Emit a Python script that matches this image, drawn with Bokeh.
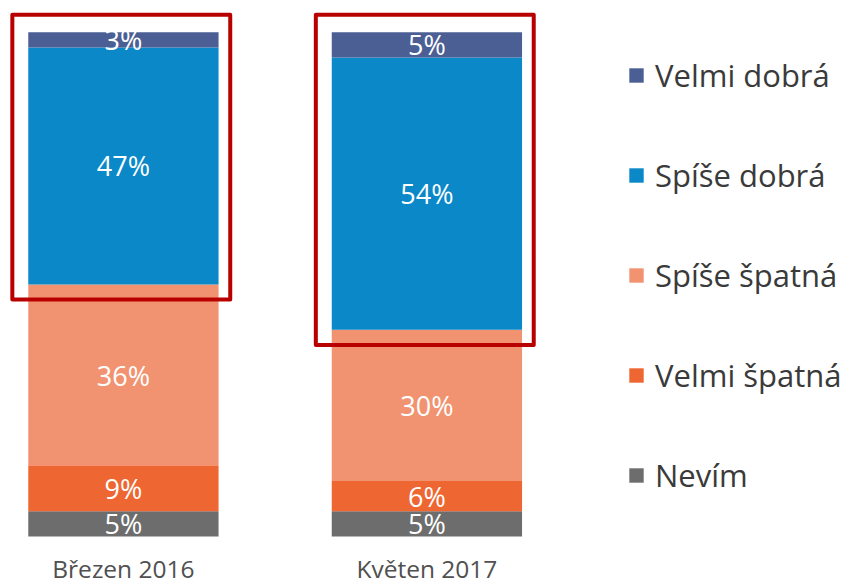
from bokeh.plotting import figure
from bokeh.models import ColumnDataSource, Range1d, FixedTicker, Legend, LegendItem
from bokeh.core.properties import value
from bokeh.embed import file_html
from bokeh.resources import INLINE

periods = ["Březen 2016", "Květen 2017"]
categories = ["Nevím", "Velmi špatná", "Spíše špatná", "Spíše dobrá", "Velmi dobrá"]
nevim = [5, 5]
velmi_spatna = [9, 6]
spise_spatna = [36, 30]
spise_dobra = [47, 54]
velmi_dobra = [3, 5]
colors = ["#6D6D6D", "#EE6632", "#F19370", "#0A88C8", "#4B5F95"]

FONT = "Open Sans"
xs = list(range(len(periods)))
series = [nevim, velmi_spatna, spise_spatna, spise_dobra, velmi_dobra]

data = {"x": xs}
for name, vals in zip(categories, series):
    data[name] = vals
src = ColumnDataSource(data)

p = figure(width=844, height=587, output_backend="svg", toolbar_location=None,
           x_range=Range1d(-0.405, 2.376), y_range=Range1d(-0.4, 106.32),
           y_axis_location=None, min_border_left=0, min_border_right=0,
           min_border_top=0, min_border_bottom=0)
p.outline_line_color = None
p.grid.visible = False

renderers = p.vbar_stack(categories, x="x", width=0.627, color=colors, source=src,
                         line_color=None)

# data labels
lx, ly, lt = [], [], []
for i in xs:
    base = 0
    for vals in series:
        v = vals[i]
        lx.append(i)
        ly.append(base + v / 2)
        lt.append(f"{v}%")
        base += v
p.text(x=lx, y=ly, text=lt, text_align="center", text_baseline="middle",
       text_color="white", text_font=value(FONT), text_font_size="27px")

# highlight rectangles around the "good" portion
good_start = [a + b + c for a, b, c in zip(nevim, velmi_spatna, spise_spatna)]
p.quad(left=[i - 0.366 for i in xs], right=[i + 0.352 for i in xs],
       bottom=[g - 3.0 for g in good_start], top=[103.5 for _ in xs],
       fill_alpha=0, line_color="#B80000", line_width=4, line_join="round")

# x axis
ax = p.xaxis[0]
ax.ticker = FixedTicker(ticks=xs)
ax.major_label_overrides = {i: lab for i, lab in zip(xs, periods)}
ax.axis_line_color = None
ax.major_tick_line_color = None
ax.minor_tick_line_color = None
ax.major_label_text_font = FONT
ax.major_label_text_font_size = "24.5px"
ax.major_label_text_color = "#505050"
ax.major_label_standoff = 7

items = [LegendItem(label=name, renderers=[r]) for name, r in zip(categories, renderers)]
items.reverse()
legend = Legend(items=items, location=(627, 42), orientation="vertical",
                glyph_width=18, glyph_height=18, label_height=40, spacing=58,
                label_standoff=10, padding=0, margin=0,
                border_line_color=None, background_fill_alpha=0,
                label_text_font=FONT, label_text_font_size="31px",
                label_text_color="#3A3A3A")
p.add_layout(legend, "center")

open("out.html", "w").write(file_html(p, INLINE))
